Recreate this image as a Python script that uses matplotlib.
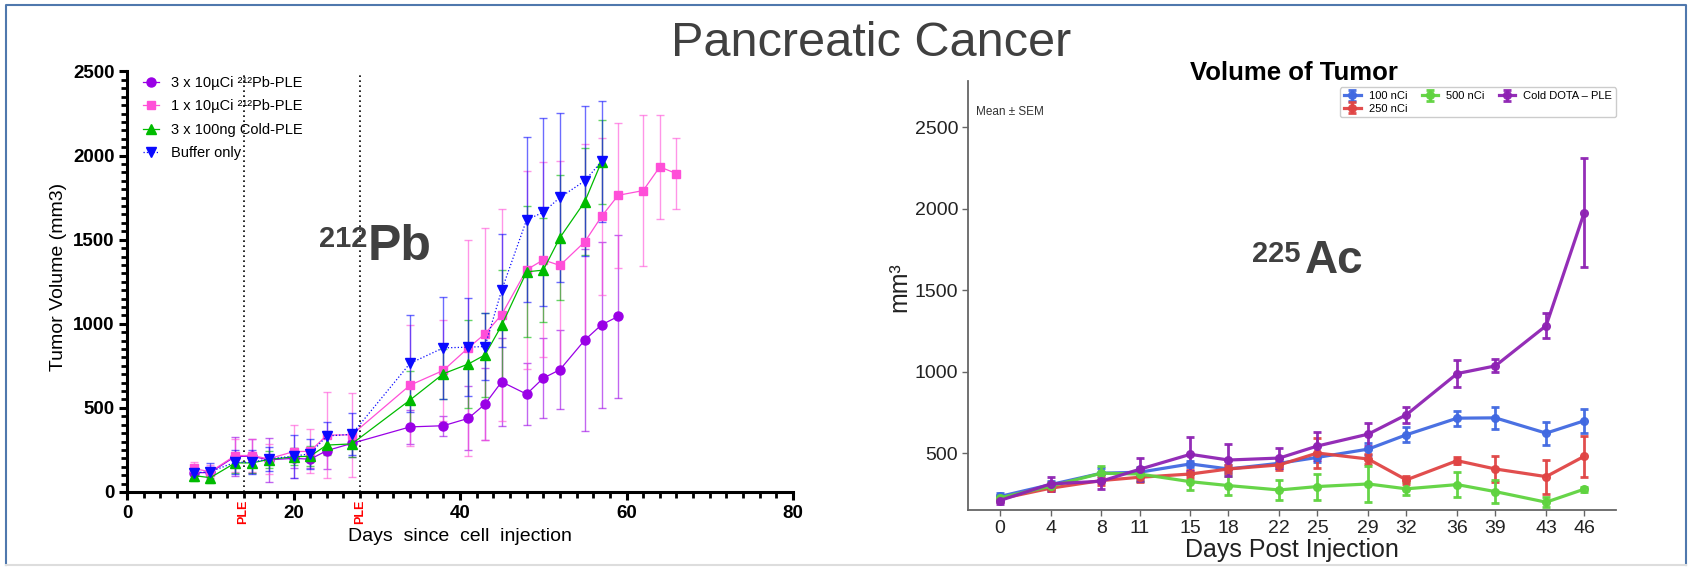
import matplotlib
matplotlib.use("Agg")
import matplotlib.pyplot as plt
from matplotlib.lines import Line2D
from matplotlib.ticker import MultipleLocator
import matplotlib.transforms as mtransforms

plt.rcParams['font.family'] = ['Liberation Sans', 'DejaVu Sans']
NARROW = ['Liberation Sans Narrow', 'Liberation Sans', 'DejaVu Sans']

# ---- left panel: 212Pb ----
days_pb = [8, 10, 13, 15, 17, 20, 22, 24, 27, 34, 38, 41, 43, 45, 48, 50, 52, 55, 57, 59]
days_pb_long = days_pb + [62, 64, 66]
days_pb_short = days_pb[:19]

pb3_mean = [114, 116, 211, 213, 191, 200, 195, 246, 289, 387, 394, 438, 522, 655, 582, 677, 727, 904, 994, 1044]
pb3_sem = [30, 30, 115, 100, 130, 60, 50, 108, 80, 100, 60, 190, 215, 260, 185, 237, 235, 540, 495, 484]

pb1_mean = [140, 120, 217, 217, 197, 240, 242, 338, 340, 635, 723, 857, 940, 1054, 1321, 1380, 1347,
            1488, 1638, 1764, 1792, 1933, 1893]
pb1_sem = [37, 40, 100, 100, 90, 158, 132, 255, 248, 360, 300, 640, 630, 630, 590, 580, 620,
           580, 465, 430, 450, 310, 210]

cold_mean = [98, 85, 173, 173, 193, 209, 213, 279, 286, 547, 703, 761, 815, 990, 1309, 1319, 1512, 1727, 1964]
cold_sem = [30, 30, 60, 60, 50, 50, 60, 60, 80, 170, 150, 260, 250, 330, 390, 310, 370, 320, 250]

buf_mean = [114, 120, 177, 177, 197, 213, 227, 333, 343, 765, 857, 861, 865, 1199, 1618, 1663, 1751, 1850, 1966]
buf_sem = [40, 55, 70, 70, 70, 128, 90, 85, 125, 290, 305, 290, 200, 335, 490, 560, 505, 445, 360]

ple_days = [14, 28]

# ---- right panel: 225Ac ----
days_ac = [0, 4, 8, 11, 15, 18, 22, 25, 29, 32, 36, 39, 43, 46]
nci100 = [233, 306, 376, 382, 433, 402, 437, 473, 524, 612, 714, 716, 622, 698]
nci100_sem = [20, 25, 30, 35, 20, 25, 30, 30, 35, 45, 45, 68, 70, 75]
nci250 = [218, 284, 331, 351, 371, 402, 427, 500, 463, 335, 453, 402, 355, 480]
nci250_sem = [20, 20, 30, 30, 25, 25, 30, 90, 30, 25, 20, 80, 105, 125]
nci500 = [224, 296, 376, 371, 324, 300, 273, 294, 310, 280, 306, 263, 198, 278]
nci500_sem = [20, 25, 45, 40, 50, 60, 60, 80, 110, 40, 75, 70, 30, 15]
coldac = [208, 310, 327, 400, 492, 457, 469, 543, 616, 735, 988, 1035, 1282, 1977]
coldac_sem = [20, 45, 45, 70, 105, 100, 60, 85, 70, 50, 85, 40, 75, 335]

W, H = 1691, 567
fig = plt.figure(figsize=(W / 100, H / 100), dpi=100)

# outer frame
blue_frame = '#4f78ad'
fig.add_artist(Line2D([6 / W, 6 / W, 1686 / W, 1686 / W], [1 - 565 / H, 1 - 5 / H, 1 - 5 / H, 1 - 565 / H],
                      transform=fig.transFigure, color=blue_frame, lw=1.5))
fig.add_artist(Line2D([6 / W, 1686 / W], [1 - 565 / H, 1 - 565 / H],
                      transform=fig.transFigure, color='#dddddd', lw=1.5))

fig.text(871 / W, 1 - 56 / H, 'Pancreatic Cancer', ha='center', va='baseline',
         fontsize=35, color='#404040')

# ================= left =================
ax = fig.add_axes([127 / W, 1 - 492 / H, 666 / W, 420.5 / H])
series = [
    (days_pb, pb3_mean, pb3_sem, '#9a00e6', 'o', 6.5, '-', '3 x 10µCi ²¹²Pb-PLE'),
    (days_pb_long, pb1_mean, pb1_sem, '#ff4fd8', 's', 6, '-', '1 x 10µCi ²¹²Pb-PLE'),
    (days_pb_short, cold_mean, cold_sem, '#00bb00', '^', 6.5, '-', '3 x 100ng Cold-PLE'),
    (days_pb_short, buf_mean, buf_sem, '#0a0aff', 'v', 6.5, ':', 'Buffer only'),
]
handles = []
for d, m, s, c, mk, ms, ls, lab in series:
    ax.errorbar(d, m, yerr=s, fmt='none', ecolor=c, elinewidth=1.0, capsize=3,
                capthick=1.0, alpha=0.6, zorder=2)
    h, = ax.plot(d, m, color=c, marker=mk, markersize=ms, lw=0.9, ls=ls, label=lab, zorder=3)
    handles.append(h)

for pd in ple_days:
    ax.plot([pd, pd], [0, 2500], color='black', ls=(0, (1, 2)), lw=1.2, zorder=1)
trans = mtransforms.blended_transform_factory(ax.transData, ax.transAxes)
for pd in ple_days:
    ax.text(pd, -0.017, 'PLE', transform=trans, rotation=90, ha='center', va='top',
            color='red', fontsize=9, fontweight='bold')

ax.set_xlim(0, 80)
ax.set_ylim(0, 2500)
ax.spines['top'].set_visible(False)
ax.spines['right'].set_visible(False)
ax.spines['left'].set_linewidth(2.2)
ax.spines['bottom'].set_linewidth(2.2)
ax.xaxis.set_major_locator(MultipleLocator(20))
ax.xaxis.set_minor_locator(MultipleLocator(2))
ax.yaxis.set_major_locator(MultipleLocator(500))
ax.yaxis.set_minor_locator(MultipleLocator(50))
ax.tick_params(which='major', direction='out', length=6, width=2.2, labelsize=13.5, pad=3)
ax.tick_params(which='minor', direction='out', length=4, width=2)
for t in ax.get_xticklabels() + ax.get_yticklabels():
    t.set_fontweight('bold')
ax.set_xlabel('Days  since  cell  injection', fontsize=14)
ax.set_ylabel('Tumor Volume (mm3)', fontsize=14)
ax.xaxis.set_label_coords(0.5, -0.085)
ax.yaxis.set_label_coords(-0.09, 0.512)

ax.legend(handles=handles, loc='upper left', bbox_to_anchor=(0.024, 0.99), frameon=False,
          fontsize=10.5, handlelength=1.1, handletextpad=0.8, labelspacing=0.65,
          borderaxespad=0, borderpad=0)

ax.text(28.85, 1458, '212', ha='right', va='baseline', fontsize=21, fontweight='bold', color='#404040')
ax.text(28.95, 1382, 'Pb', ha='left', va='baseline', fontsize=36, fontweight='bold', color='#404040')

# ================= right =================
ax2 = fig.add_axes([968 / W, 1 - 510 / H, 648 / W, 429 / H])
rseries = [
    (nci100, nci100_sem, '#4169e1', '100 nCi'),
    (nci250, nci250_sem, '#e04444', '250 nCi'),
    (nci500, nci500_sem, '#5fd33f', '500 nCi'),
    (coldac, coldac_sem, '#8e22b3', 'Cold DOTA – PLE'),
]
for m, s, c, lab in rseries:
    ax2.errorbar(days_ac, m, yerr=s, color=c, lw=2.3, marker='o', markersize=5.5,
                 elinewidth=2, capsize=3, capthick=2, label=lab, alpha=0.95)

ax2.set_xlim(-2.5, 48.5)
ax2.set_ylim(150, 2785)
ax2.set_xticks(days_ac)
ax2.set_yticks([500, 1000, 1500, 2000, 2500])
ax2.spines['top'].set_visible(False)
ax2.spines['right'].set_visible(False)
for sp in ('left', 'bottom'):
    ax2.spines[sp].set_color('#666666')
    ax2.spines[sp].set_linewidth(1.3)
ax2.tick_params(direction='out', length=4, width=1, color='#666666', labelsize=14, pad=3)
for t in ax2.get_xticklabels() + ax2.get_yticklabels():
    t.set_family(NARROW)
    t.set_color('#222222')
ax2.set_xlabel('Days Post Injection', fontsize=18, family=NARROW, color='#222222')
ax2.set_ylabel('mm³', fontsize=18, family=NARROW, color='#222222')
ax2.xaxis.set_label_coords(0.5, -0.065)
ax2.yaxis.set_label_coords(-0.088, 0.52)

ax2.text(1294 / W, 1 - 80 / H, 'Volume of Tumor', transform=fig.transFigure, ha='center',
         va='baseline', fontsize=18.5, fontweight='bold', color='black')
ax2.text(0.012, 0.928, 'Mean ± SEM', transform=ax2.transAxes, ha='left', va='center',
         fontsize=8.5, color='#333333', family=NARROW)
leg = ax2.legend(loc='upper right', bbox_to_anchor=(1.0, 0.985), ncol=3, fontsize=8,
                 frameon=True, fancybox=True, framealpha=1, edgecolor='#cccccc',
                 borderaxespad=0, columnspacing=1.3, handlelength=1.5, handletextpad=0.7,
                 labelspacing=0.2, borderpad=0.35)
for t in leg.get_texts():
    t.set_family(NARROW)

ax2.text(23.7, 1674, '225', ha='right', va='baseline', fontsize=21, fontweight='bold',
         color='#404040', family=NARROW)
ax2.text(24.0, 1603, 'Ac', ha='left', va='baseline', fontsize=33, fontweight='bold',
         color='#404040', family=NARROW)

fig.savefig('out.png', dpi=100)
